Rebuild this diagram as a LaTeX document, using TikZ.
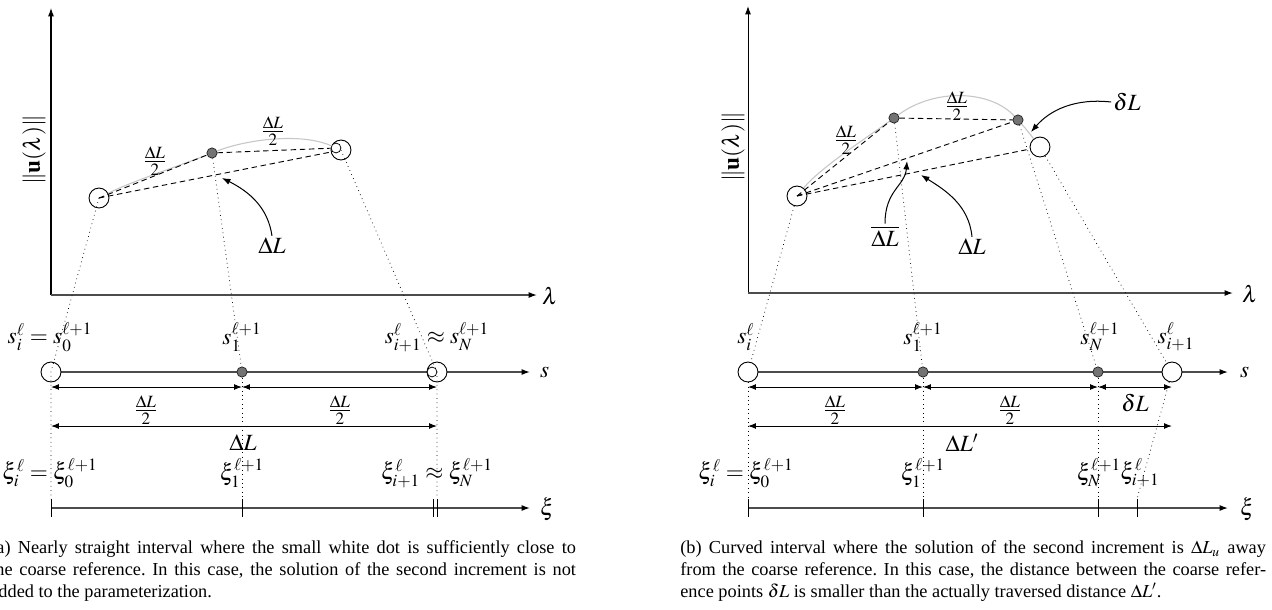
\documentclass[tikz,border=0pt]{standalone}
\usepackage{mathptmx}
\usepackage{fontspec}
\setmainfont{Liberation Serif}
\usetikzlibrary{arrows.meta}
\frenchspacing
\begin{document}
\begin{tikzpicture}[x=0.5464pt,y=-0.5464pt,
  bigc/.style={circle,draw,fill=white,minimum size=10.9pt,inner sep=0pt,line width=0.5pt},
  gdot/.style={circle,draw=black!85,fill=black!55,minimum size=5.6pt,inner sep=0pt,line width=0.4pt},
  wdot/.style={circle,draw,fill=white,minimum size=5.4pt,inner sep=0pt,line width=0.4pt},
  axisln/.style={draw=black!70,line width=0.75pt,-{Latex[length=4.6pt,width=3.3pt,color=black]}},
  yaxis/.style={draw,line width=0.55pt,-{Latex[length=4.6pt,width=3.3pt]}},
  dimarr/.style={draw,line width=0.55pt,{Latex[length=4.3pt,width=3.2pt]}-{Latex[length=4.3pt,width=3.2pt]}},
  curarr/.style={draw,line width=0.55pt,-{Latex[length=4.6pt,width=3.4pt]}},
  proj/.style={draw,dotted,line width=0.4pt},
  dsh/.style={draw,dash pattern=on 3pt off 2pt,line width=0.5pt},
  crv/.style={draw=black!22,line width=0.6pt},
  tickln/.style={draw,line width=0.5pt},
  lbl/.style={font=\fontsize{12.7}{15}\selectfont,inner sep=1pt},
  captext/.style={anchor=north west,inner sep=0pt,text width=#1,align=justify,font=\normalsize}
]
\useasboundingbox (0,0) rectangle (1272,609);
\clip (0,0) rectangle (1272,609);

% ================= LEFT PANEL =================
\coordinate (O1) at (51,295);
\coordinate (Y1) at (51,8);
\coordinate (X1) at (537,295);
\draw[yaxis] (O1) -- (Y1);
\draw[axisln] (O1) -- (X1);
\node[lbl,rotate=90] (ylab1) at (34,150) {$\|\mathbf{u}(\lambda)\|$};
\node[lbl,anchor=west] (lam1) at (540,296) {$\lambda$};

% s axis
\coordinate (p1) at (51,372);
\coordinate (p2) at (242,372);
\coordinate (p3) at (437,372);
\coordinate (se1) at (530,372);
\draw[axisln] (p1) -- (se1);
\node[lbl,anchor=west] (slab1) at (538,372) {$s$};

% xi axis
\coordinate (xs1) at (51,508);
\coordinate (xe1) at (530,508);
\draw[axisln] (xs1) -- (xe1);
\node[lbl,anchor=west] (xlab1) at (538,509) {$\xi$};
\coordinate (t1) at (0,499);
\foreach \xx in {51,242,433,437} \draw[tickln] (\xx,499) -- (\xx,517);

% top nodes
\node[bigc] (A1) at (99,198) {};
\node[gdot] (M1) at (212,153) {};
\node[bigc] (R1) at (341,150) {};
\node[wdot] (W1) at (336,148) {};

\draw[crv] (A1) .. controls (130,182) and (187,163) .. (M1);
\draw[crv] (M1) .. controls (245,140) and (300,132) .. (R1);
\draw[dsh] (A1.center) -- (M1);
\draw[dsh] (M1) -- (W1);
\draw[dsh] (A1.center) -- (R1);

\node[lbl] (h1) at (155,161) {$\frac{\Delta L}{2}$};
\node[lbl] (h2) at (273,131) {$\frac{\Delta L}{2}$};
\node[lbl] (dl1) at (272,246) {$\Delta L$};
\coordinate (dlt1) at (222,178);
\draw[curarr] (dl1.north) .. controls (268,208) and (250,192) .. (dlt1);

% s-axis nodes
\node[bigc] (S1) at (p1) {};
\node[gdot] (S2) at (p2) {};
\node[bigc] (S3) at (p3) {};
\node[wdot] (S3w) at (432,372) {};

% projections
\draw[proj] (A1.center) -- (S1.center) -- (S1.center |- t1);
\draw[proj] (M1) -- (S2);
\draw[proj] (S2) -- (S2.center |- t1);
\draw[proj] (R1.center) -- (S3.center) -- (S3.center |- t1);

% labels
\node[lbl] (sl1) at (50,337) {$s_i^\ell = s_0^{\ell+1}$};
\node[lbl] (sl2) at (242,337) {$s_1^{\ell+1}$};
\node[lbl] (sl3) at (437,337) {$s_{i+1}^\ell \approx s_N^{\ell+1}$};
\node[lbl] (xl1) at (50,473) {$\xi_i^\ell = \xi_0^{\ell+1}$};
\node[lbl] (xl2) at (242,473) {$\xi_1^{\ell+1}$};
\node[lbl] (xl3) at (437,473) {$\xi_{i+1}^\ell \approx \xi_N^{\ell+1}$};

% dimensions
\coordinate (ra) at (0,387);
\coordinate (rb) at (0,426);
\draw[dimarr] (S1.center |- ra) -- (S2.center |- ra);
\draw[dimarr] (S2.center |- ra) -- (S3.center |- ra);
\draw[dimarr] (S1.center |- rb) -- (S3.center |- rb);
\node[lbl] (f1) at (146,410) {$\frac{\Delta L}{2}$};
\node[lbl] (f2) at (340,410) {$\frac{\Delta L}{2}$};
\node[lbl] (f3) at (243,443) {$\Delta L$};

\node[captext=320pt] (capa) at (-10,540) {(a) Nearly straight interval where the small white dot is sufficiently close to\linebreak the coarse reference. In this case, the solution of the second increment is not\linebreak added to the parameterization.};

% ================= RIGHT PANEL =================
\coordinate (O2) at (748,293);
\coordinate (Y2) at (748,6);
\coordinate (X2) at (1233,293);
\draw[yaxis] (O2) -- (Y2);
\draw[axisln] (O2) -- (X2);
\node[lbl,rotate=90] (ylab2) at (733,147) {$\|\mathbf{u}(\lambda)\|$};
\node[lbl,anchor=west] (lam2) at (1240,294) {$\lambda$};

\coordinate (q1) at (748,372);
\coordinate (q2) at (923,372);
\coordinate (q3) at (1098,372);
\coordinate (q4) at (1172,372);
\coordinate (se2) at (1228,372);
\draw[axisln] (q1) -- (se2);
\node[lbl,anchor=west] (slab2) at (1238,372) {$s$};

\coordinate (xs2) at (748,508);
\coordinate (xe2) at (1228,508);
\draw[axisln] (xs2) -- (xe2);
\node[lbl,anchor=west] (xlab2) at (1238,509) {$\xi$};
\coordinate (t2) at (0,499);
\coordinate (tk4) at (1137,499);
\foreach \xx in {748,923,1098,1137} \draw[tickln] (\xx,499) -- (\xx,517);

\node[bigc] (L) at (797,196) {};
\node[gdot] (D1) at (894,118) {};
\node[gdot] (D2) at (1018,120) {};
\node[bigc] (R2) at (1040,147) {};

\draw[crv] (L) .. controls (820,168) and (869,136) .. (D1);
\draw[crv] (D1) .. controls (935,88) and (990,90) .. (D2);
\draw[crv] (D2) .. controls (1026,129) .. (R2);
\draw[dsh] (L.center) -- (D1);
\draw[dsh] (D1) -- (D2);
\draw[dsh] (L.center) -- (D2);
\draw[dsh] (L.center) -- (R2);

\node[lbl] (h3) at (846,140) {$\frac{\Delta L}{2}$};
\node[lbl] (h4) at (957,106) {$\frac{\Delta L}{2}$};
\node[lbl] (ob) at (885,236) {$\overline{\Delta L}$};
\node[lbl] (dl2) at (972,247) {$\Delta L$};
\node[lbl] (dsm) at (1127,102) {$\delta L$};
\coordinate (obt) at (907,161);
\coordinate (dlt2) at (921,175);
\coordinate (dst) at (1031,132);
\draw[curarr] (ob.north) .. controls (885,190) and (905,186) .. (obt);
\draw[curarr] (dl2.north) .. controls (969,205) and (945,190) .. (dlt2);
\draw[curarr] (dsm.west) .. controls (1075,98) and (1050,110) .. (dst);

\node[bigc] (Q1) at (q1) {};
\node[gdot] (Q2) at (q2) {};
\node[gdot] (Q3) at (q3) {};
\node[bigc] (Q4) at (q4) {};

\draw[proj] (L) -- (Q1);
\draw[proj] (Q1) -- (Q1.center |- t2);
\draw[proj] (D1) -- (Q2);
\draw[proj] (Q2) -- (Q2.center |- t2);
\draw[proj] (D2) -- (Q3);
\draw[proj] (Q3) -- (Q3.center |- t2);
\draw[proj] (R2) -- (Q4);
\draw[proj] (Q4) -- (tk4);

\node[lbl] (sr1) at (746,337) {$s_i^\ell$};
\node[lbl] (sr2) at (923,337) {$s_1^{\ell+1}$};
\node[lbl] (sr3) at (1100,337) {$s_N^{\ell+1}$};
\node[lbl] (sr4) at (1176,337) {$s_{i+1}^\ell$};
\node[lbl] (xr1) at (746,473) {$\xi_i^\ell = \xi_0^{\ell+1}$};
\node[lbl] (xr2) at (923,473) {$\xi_1^{\ell+1}$};
\node[lbl] (xr3) at (1099,473) {$\xi_N^{\ell+1}$};
\node[lbl] (xr4) at (1140,473) {$\xi_{i+1}^\ell$};

\draw[dimarr] (Q1.center |- ra) -- (Q2.center |- ra);
\draw[dimarr] (Q2.center |- ra) -- (Q3.center |- ra);
\draw[dimarr] (Q3.center |- ra) -- (Q4.center |- ra);
\draw[dimarr] (Q1.center |- rb) -- (Q4.center |- rb);
\node[lbl] (g1) at (835,410) {$\frac{\Delta L}{2}$};
\node[lbl] (g2) at (1010,410) {$\frac{\Delta L}{2}$};
\node[lbl] (g3) at (1135,403) {$\delta L$};
\node[lbl] (g4) at (962,443) {$\Delta L'$};

\node[captext=320pt] (capb) at (680,540) {(b) Curved interval where the solution of the second increment is $\Delta L_u$ away\linebreak from the coarse reference. In this case, the distance between the coarse refer-\linebreak ence points $\delta L$ is smaller than the actually traversed distance $\Delta L'$.};
\end{tikzpicture}
\end{document}
